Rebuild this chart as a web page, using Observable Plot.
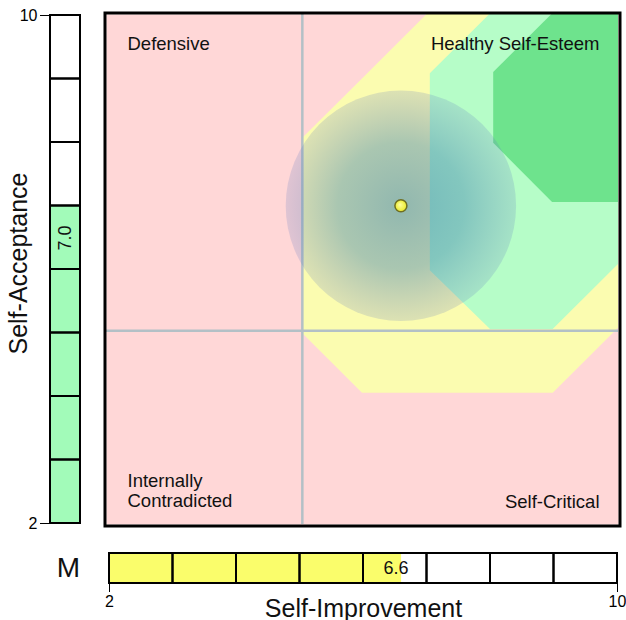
<!DOCTYPE html>
<html>
<head>
<meta charset="utf-8">
<script src="https://cdn.jsdelivr.net/npm/d3@7"></script>
<script src="https://cdn.jsdelivr.net/npm/@observablehq/plot@0.6"></script>
<style>
  body { margin: 0; background: #fff; }
  #chart { position: relative; width: 626px; height: 620px; }
  #chart svg { position: absolute; left: 0; top: 0; }
</style>
</head>
<body>
<div id="chart"></div>
<script>
// ---------- data ----------
const scaleDomain = [2, 10];
const scaleTicks = [2, 10];
const cellStarts = [2, 3, 4, 5, 6, 7, 8, 9];
const improvement = 6.6;     // Self-Improvement score (x)
const acceptance = 7.0;      // Self-Acceptance score (y)
const spreadRadius = 1.8;    // radius of the shaded circle, in score units
const quadrantSplitX = 5.06;
const quadrantSplitY = 5.04;

// zone outlines (score units): lower and upper boundary per x
const yellowX  = [5.06, 6.0, 7.02, 8.98, 10];
const yellowLo = [5.0, 4.06, 4.06, 4.06, 5.08];
const yellowHi = [8.05, 8.99, 10.01, 12, 13];
const lightGreenX  = [7.06, 8.0, 8.98, 10];
const lightGreenLo = [5.98, 5.06, 5.06, 6.08];
const lightGreenHi = [9.07, 10.01, 11, 12];
const darkGreenX  = [8.05, 8.97, 10];
const darkGreenLo = [7.98, 7.05, 7.05];
const darkGreenHi = [9.09, 10.01, 11];

const quadrantNames = ["Defensive", "Healthy Self-Esteem", "Internally\nContradicted", "Self-Critical"];

const yTitle = "Self-Acceptance";
const xTitle = "Self-Improvement";
const modeLabel = "M";

// ---------- layout / styles ----------
const FONT = "Liberation Sans, Arial, Helvetica, sans-serif";
const W = 626, H = 620;

function zoneRows(X, lo, hi) { return X.map((x, i) => ({x, lo: lo[i], hi: hi[i]})); }
const cells = cellStarts.map(v => ({lo: v, hi: v + 1}));

const main = {ml: 106, mr: 8, mt: 14, mb: 96};
const pxPerUnit = (W - main.ml - main.mr) / (scaleDomain[1] - scaleDomain[0]);
const labelStyle = {fontSize: 18.5, fill: "#111", fontFamily: FONT};

const mainSvg = Plot.plot({
  width: W, height: H,
  marginLeft: main.ml, marginRight: main.mr, marginTop: main.mt, marginBottom: main.mb,
  style: {fontFamily: FONT, fontSize: "16px", background: "white"},
  x: {domain: scaleDomain, axis: null},
  y: {domain: scaleDomain, axis: null},
  marks: [
    Plot.frame({fill: "#ffd7d7"}),
    Plot.areaY(zoneRows(yellowX, yellowLo, yellowHi), {x: "x", y1: "lo", y2: "hi", fill: "#fbfcb0", clip: true, curve: "linear"}),
    Plot.areaY(zoneRows(lightGreenX, lightGreenLo, lightGreenHi), {x: "x", y1: "lo", y2: "hi", fill: "#b6fdc8", clip: true, curve: "linear"}),
    Plot.areaY(zoneRows(darkGreenX, darkGreenLo, darkGreenHi), {x: "x", y1: "lo", y2: "hi", fill: "#6ee38d", clip: true, curve: "linear"}),
    Plot.ruleX([quadrantSplitX], {stroke: "#b3c0c6", strokeWidth: 2.5}),
    Plot.ruleY([quadrantSplitY], {stroke: "#b3c0c6", strokeWidth: 2.5}),
    Plot.dot([{x: improvement, y: acceptance}], {x: "x", y: "y", r: spreadRadius * pxPerUnit, fill: "url(#spreadGrad)", stroke: "none"}),
    Plot.dot([{x: improvement, y: acceptance}], {x: "x", y: "y", r: 6, fill: "url(#dotGrad)", stroke: "#6e6e22", strokeWidth: 1.5}),
    Plot.text([quadrantNames[0]], {text: d => d, frameAnchor: "top-left", textAnchor: "start", lineAnchor: "bottom", dx: 21, dy: 35, ...labelStyle}),
    Plot.text([quadrantNames[1]], {text: d => d, frameAnchor: "top-right", textAnchor: "end", lineAnchor: "bottom", dx: -19, dy: 35, ...labelStyle}),
    Plot.text([quadrantNames[2]], {text: d => d, frameAnchor: "bottom-left", textAnchor: "start", lineAnchor: "bottom", lineHeight: 1.08, dx: 21, dy: -18, ...labelStyle}),
    Plot.text([quadrantNames[3]], {text: d => d, frameAnchor: "bottom-right", textAnchor: "end", lineAnchor: "bottom", dx: -19, dy: -17, ...labelStyle}),
    Plot.frame({stroke: "black", strokeWidth: 3, inset: -1.5})
  ]
});

const defs = d3.select(mainSvg).insert("defs", ":first-child");
const grad = defs.append("radialGradient").attr("id", "spreadGrad");
grad.append("stop").attr("offset", "0%").attr("stop-color", "#3a7fae").attr("stop-opacity", 0.55);
grad.append("stop").attr("offset", "55%").attr("stop-color", "#4282b2").attr("stop-opacity", 0.44);
grad.append("stop").attr("offset", "100%").attr("stop-color", "#6078c0").attr("stop-opacity", 0.2);
const dgrad = defs.append("radialGradient").attr("id", "dotGrad").attr("fx", "40%").attr("fy", "40%");
dgrad.append("stop").attr("offset", "0%").attr("stop-color", "#ffffa0");
dgrad.append("stop").attr("offset", "100%").attr("stop-color", "#eaea2a");

// left bar (Self-Acceptance)
const leftSvg = Plot.plot({
  width: W, height: H,
  marginLeft: 50, marginRight: W - 80, marginTop: 15, marginBottom: H - 523,
  style: {fontFamily: FONT, fontSize: "16px", background: "transparent", color: "black"},
  y: {domain: scaleDomain, ticks: scaleTicks, tickSize: 10, tickPadding: 3, label: null, tickFormat: d => String(d)},
  marks: [
    Plot.rect([{lo: scaleDomain[0], hi: acceptance}], {y1: "lo", y2: "hi", fill: "#a2fbb9"}),
    Plot.rect(cells, {y1: "lo", y2: "hi", fill: "none", stroke: "black", strokeWidth: 2}),
    Plot.text([acceptance], {y: d => d, text: d => d.toFixed(1), rotate: -90, frameAnchor: "middle", textAnchor: "middle", dy: 32, fontSize: 18, fill: "#111"}),
    Plot.text([yTitle], {text: d => d, frameAnchor: "left", textAnchor: "middle", rotate: -90, dx: -32, dy: -6, fontSize: 25, fill: "#111"})
  ]
});

// bottom bar (Self-Improvement)
const bottomSvg = Plot.plot({
  width: W, height: H,
  marginLeft: 109, marginRight: W - 617, marginTop: 553, marginBottom: H - 583,
  style: {fontFamily: FONT, fontSize: "16px", background: "transparent", color: "black"},
  x: {domain: scaleDomain, ticks: scaleTicks, tickSize: 9, tickPadding: 3, label: null, tickFormat: d => String(d)},
  marks: [
    Plot.rect([{lo: scaleDomain[0], hi: improvement}], {x1: "lo", x2: "hi", fill: "#fafd6b"}),
    Plot.rect(cells, {x1: "lo", x2: "hi", fill: "none", stroke: "black", strokeWidth: 2}),
    Plot.text([improvement], {x: d => d, text: d => d.toFixed(1), frameAnchor: "middle", textAnchor: "end", dx: 7, fontSize: 18, fill: "#111"}),
    Plot.text([modeLabel], {text: d => d, frameAnchor: "left", textAnchor: "middle", dx: -41, fontSize: 28, fill: "#111"}),
    Plot.text([xTitle], {text: d => d, frameAnchor: "bottom", textAnchor: "middle", lineAnchor: "bottom", dy: 33, fontSize: 25, fill: "#111"})
  ]
});

document.getElementById("chart").append(mainSvg, leftSvg, bottomSvg);
</script>
</body>
</html>
